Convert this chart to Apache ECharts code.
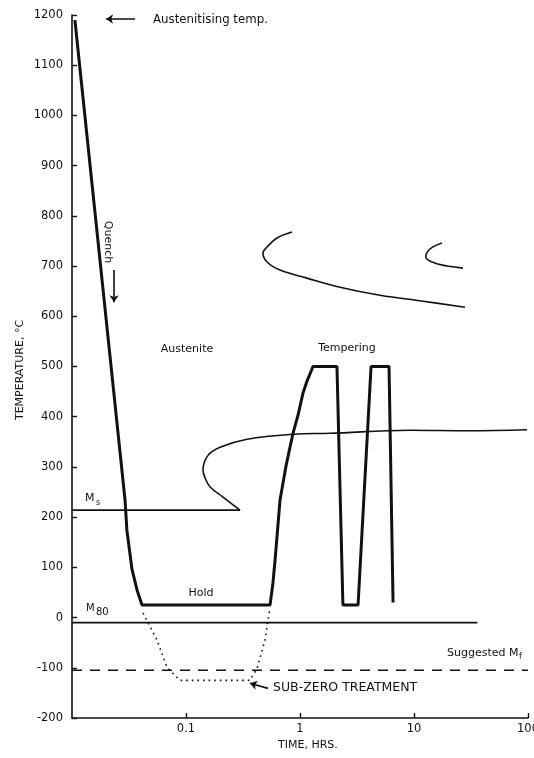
<!DOCTYPE html>
<html>
<head>
<meta charset="utf-8">
<script src="https://cdn.jsdelivr.net/npm/echarts/dist/echarts.min.js"></script>
<style>html,body{margin:0;padding:0;background:#fff}#c{width:534px;height:758px}</style>
</head>
<body>
<div id="c"></div>
<script>
// ---- data (time in hours, temperature in °C) ----
const yTicks = [-200,-100,0,100,200,300,400,500,600,700,800,900,1000,1100,1200];
const xTicks = [0.01,0.1,1,10,100];
const heatPath = [[0.0106,1190],[0.0292,234],[0.0303,174],[0.0336,96],[0.0372,55],[0.0411,25],
  [0.546,25],[0.579,69],[0.604,114],[0.668,234],[0.754,302],[0.868,367],[0.961,403],[1.062,447],
  [1.152,471],[1.274,495],[1.30,500],[2.11,500],
  [2.38,25],[3.23,25],[4.20,500],[6.04,500],[6.55,30]];
const msLine = [[0.01,214],[0.298,214]];
const bainiteCurve = [[0.298,214],[0.211,240],[0.163,260],[0.147,278],[0.141,294],[0.156,323],
  [0.199,339],[0.343,355],[0.868,365],[1.83,367],[9.23,373],[30,372],[98,374]];
const pearliteCurve1 = [[0.851,768],[0.628,756],[0.514,738],[0.473,726],[0.514,708],[0.668,692],
  [1.15,676],[2.24,658],[5.03,642],[12.0,630],[28.0,618]];
const pearliteCurve2 = [[17.6,746],[13.8,734],[12.7,718],[14.4,708],[19.5,700],[26.9,696]];
const m80Line = [[0.01,-10],[36,-10]];
const mfLine = [[0.01,-105],[100,-105]];
const subZero = [[0.0420,9],[0.0557,-45],[0.0681,-99],[0.0886,-125],[0.364,-125],[0.420,-101],
  [0.493,-45],[0.524,-5],[0.546,19]];
const arrowAust = [[0.0357,1192],[0.0199,1192]];
const arrowQuench = [[0.0234,692],[0.0234,628]];
const arrowSub = [[0.524,-141],[0.364,-131]];

const INK = '#111';
const FONT = 'DejaVu Sans';
function lineSeries(data, width, type, smooth) {
  return {type:'line', data:data, showSymbol:false, symbol:'none', smooth:smooth||false,
    lineStyle:{color:INK, width:width, type:type||'solid'}, silent:true, z:3};
}
function arrowSeries(coords) {
  return {type:'lines', coordinateSystem:'cartesian2d', symbol:['none','arrow'], symbolSize:7,
    lineStyle:{color:INK, width:1.6, opacity:1}, data:[{coords:coords}], silent:true, z:4};
}
function txt(text, x, y, opts) {
  opts = opts || {};
  return {type:'text', x:x, y:y, rotation:opts.rot||0, z:10,
    style:{text:text, fill:INK, font:(opts.size||11)+'px "'+FONT+'"',
      textAlign:opts.align||'left', textVerticalAlign:'middle'}};
}

const chart = echarts.init(document.getElementById('c'), null, {renderer:'canvas'});
chart.setOption({
  animation:false,
  backgroundColor:'#fff',
  grid:{left:72, right:6, top:15, bottom:40, containLabel:false, outerBoundsMode:'none'},
  xAxis:{type:'log', logBase:10, min:xTicks[0], max:xTicks[xTicks.length-1],
    axisLine:{onZero:false, lineStyle:{color:INK, width:1.6}},
    axisTick:{inside:true, length:5, lineStyle:{color:INK, width:1.4}},
    minorTick:{show:false}, splitLine:{show:false},
    axisLabel:{showMinLabel:false, color:INK, fontFamily:FONT, fontSize:11.5, margin:5,
      formatter:v=>String(Number(Number(v).toPrecision(3)))}},
  yAxis:{type:'value', min:yTicks[0], max:yTicks[yTicks.length-1], interval:100,
    axisLine:{show:true, onZero:false, lineStyle:{color:INK, width:1.6}},
    axisTick:{show:true, inside:true, length:5, lineStyle:{color:INK, width:1.4}},
    splitLine:{show:false},
    axisLabel:{color:INK, fontFamily:FONT, fontSize:11.5, margin:9, formatter:v=>String(v)}},
  series:[
    lineSeries(heatPath, 3),
    lineSeries(msLine, 1.6),
    lineSeries(bainiteCurve, 1.6, 'solid', 0.4),
    lineSeries(pearliteCurve1, 1.6, 'solid', 0.4),
    lineSeries(pearliteCurve2, 1.6, 'solid', 0.4),
    lineSeries(m80Line, 1.8),
    lineSeries(mfLine, 1.4, [10,8]),
    lineSeries(subZero, 1.6, [1.6,4]),
    arrowSeries(arrowAust),
    arrowSeries(arrowQuench),
    arrowSeries(arrowSub)
  ],
  graphic:[
    txt('Austenitising temp.', 153, 20, {size:11.8}),
    txt('Quench', 108, 242, {rot:-Math.PI/2, align:'center'}),
    txt('Austenite', 187, 349, {align:'center'}),
    txt('Tempering', 347, 348, {align:'center'}),
    txt('Hold', 201, 593, {align:'center'}),
    txt('M', 85, 498),
    txt('s', 96, 503, {size:8}),
    txt('M', 86, 608, {size:10}),
    txt('80', 96, 612, {size:10}),
    txt('Suggested', 447, 653),
    txt('M', 509, 653),
    txt('f', 519, 657, {size:8}),
    txt('SUB-ZERO TREATMENT', 273, 688, {size:12.5}),
    txt('TIME, HRS.', 278, 745),
    txt('TEMPERATURE, \u00B0C', 20, 370, {rot:Math.PI/2, align:'center'})
  ]
});
</script>
</body>
</html>
